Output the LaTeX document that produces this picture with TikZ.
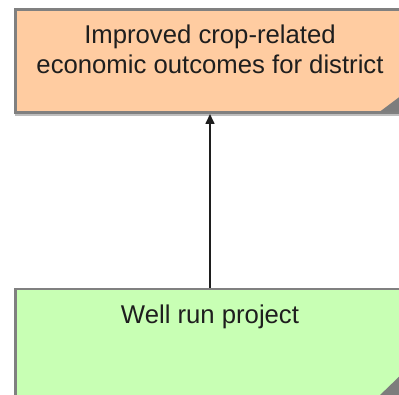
\documentclass[tikz,border=0pt]{standalone}
\usepackage{fontspec}
\setmainfont{Liberation Sans}
\usetikzlibrary{arrows.meta}
\definecolor{peach}{RGB}{255,204,161}
\definecolor{mint}{RGB}{200,255,180}
\definecolor{edgegrey}{RGB}{128,128,128}
\definecolor{foldgrey}{RGB}{125,125,125}
\definecolor{inkc}{RGB}{30,30,30}
\definecolor{shadowc}{RGB}{190,190,190}
\tikzset{
  box/.style={rectangle, draw=edgegrey, line width=2.5pt, minimum width=389.5pt, minimum height=103pt, inner sep=0pt},
  lbl/.style={font=\fontsize{25.7}{30}\selectfont, text=inkc, inner sep=0pt, anchor=base},
  fold/.style={fill=foldgrey, draw=none},
  conn/.style={draw=inkc, line width=1.6pt, -{Triangle[width=9pt,length=10pt]}},
  shade/.style={fill=shadowc, draw=none}
}
\begin{document}
\begin{tikzpicture}[x=1pt,y=-1pt]
\useasboundingbox (0,0) rectangle (399,395);
\clip (0,0) rectangle (399,395);
% shadows
\fill[shade] (14.5,9.5) rectangle (407,116);
\fill[shade] (14.5,289.5) rectangle (407,410);
% boxes
\node[box, fill=peach] (top) at (210,61.25) {};
\node[box, fill=mint, minimum height=112pt] (bot) at (210,345.25) {};
% folded corners
\fill[fold] (380,111.5) -- (406,111.5) -- (406,92) -- cycle;
\fill[fold] (378,397) -- (406,397) -- (406,370) -- cycle;
% labels
\node[lbl] (t1) at (210,43.3) {Improved crop-related};
\node[lbl] (t2) at (210,73.3) {economic outcomes for district};
\node[lbl] (t3) at (210,323.3) {Well run project};
% connector
\draw[conn] (bot.north) -- (top.south);
\end{tikzpicture}
\end{document}
